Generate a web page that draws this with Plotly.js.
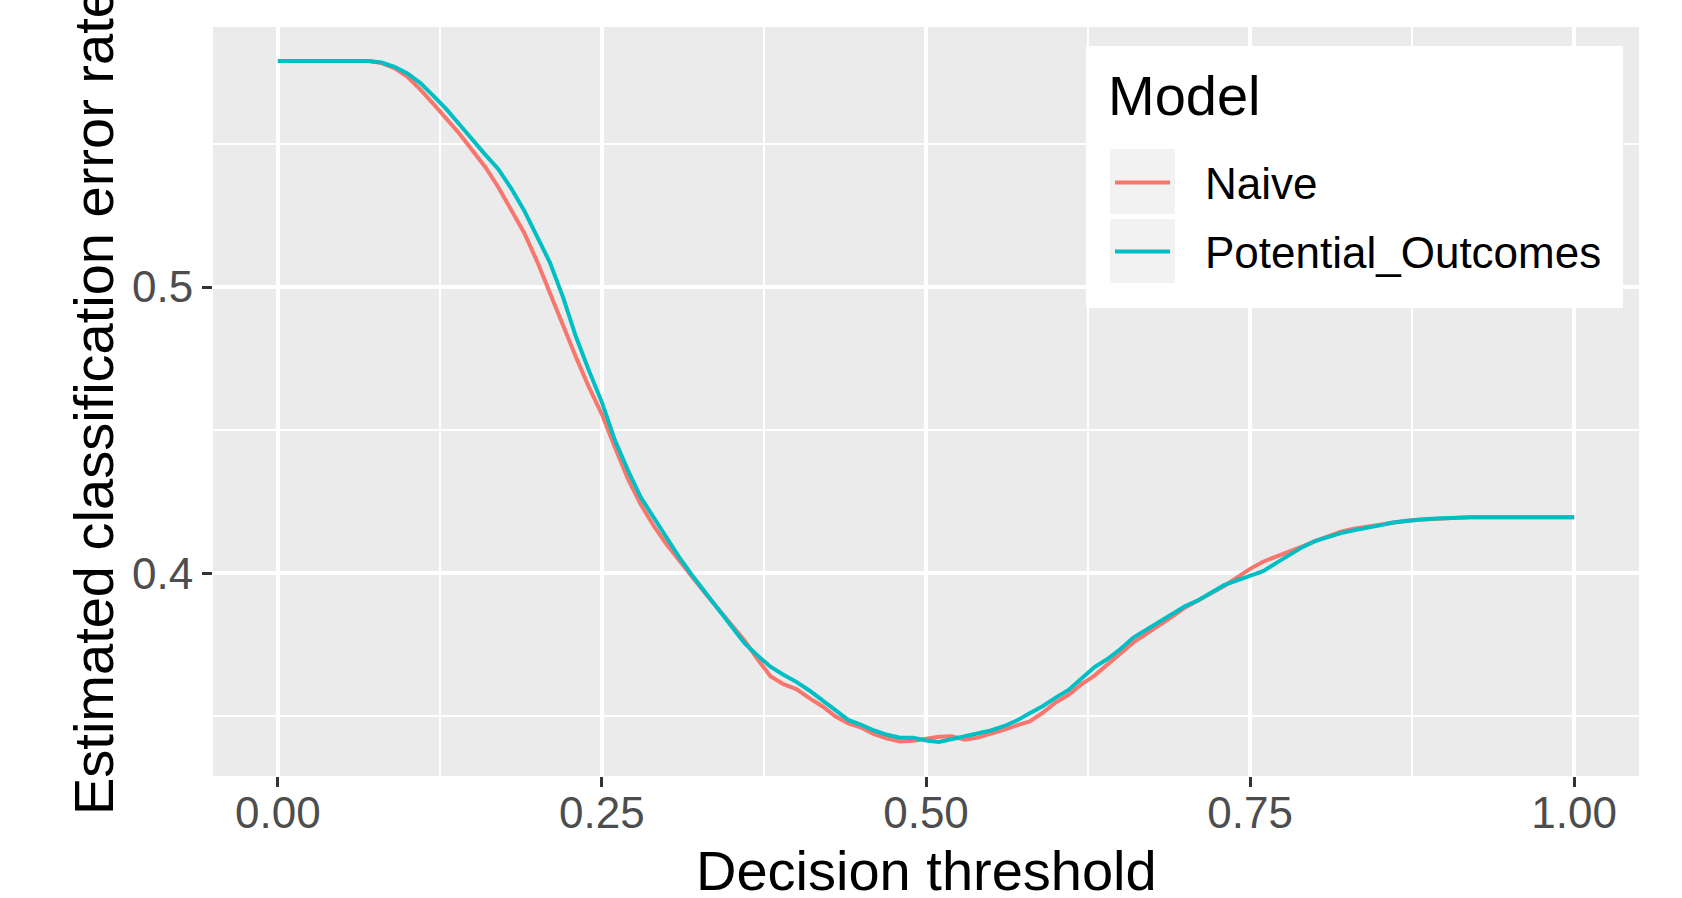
<!DOCTYPE html>
<html>
<head>
<meta charset="utf-8">
<script src="https://cdn.plot.ly/plotly-3.0.1.min.js"></script>
<style>html,body{margin:0;padding:0;background:#fff;}#chart{width:1682px;height:898px;}</style>
</head>
<body>
<div id="chart"></div>
<script>
// Decision thresholds 0.00 .. 1.00 step 0.01
const threshold = [0.00,0.01,0.02,0.03,0.04,0.05,0.06,0.07,0.08,0.09,
  0.10,0.11,0.12,0.13,0.14,0.15,0.16,0.17,0.18,0.19,
  0.20,0.21,0.22,0.23,0.24,0.25,0.26,0.27,0.28,0.29,
  0.30,0.31,0.32,0.33,0.34,0.35,0.36,0.37,0.38,0.39,
  0.40,0.41,0.42,0.43,0.44,0.45,0.46,0.47,0.48,0.49,
  0.50,0.51,0.52,0.53,0.54,0.55,0.56,0.57,0.58,0.59,
  0.60,0.61,0.62,0.63,0.64,0.65,0.66,0.67,0.68,0.69,
  0.70,0.71,0.72,0.73,0.74,0.75,0.76,0.77,0.78,0.79,
  0.80,0.81,0.82,0.83,0.84,0.85,0.86,0.87,0.88,0.89,
  0.90,0.91,0.92,0.93,0.94,0.95,0.96,0.97,0.98,0.99,1.00];

const naive = [0.579,0.579,0.579,0.579,0.579,0.579,0.579,0.579,0.5783,0.5765,
  0.5735,0.5690,0.5640,0.5590,0.5537,0.5478,0.5420,0.5350,0.5273,0.5190,
  0.5090,0.4978,0.4862,0.4755,0.4650,0.4555,0.4440,0.4330,0.4240,0.4165,
  0.4100,0.4040,0.3985,0.3928,0.3872,0.3820,0.3765,0.3700,0.3640,0.3612,
  0.3595,0.3563,0.3535,0.3500,0.3475,0.3460,0.3437,0.3422,0.3412,0.3414,
  0.3420,0.3428,0.3430,0.3418,0.3425,0.3438,0.3452,0.3468,0.3482,0.3512,
  0.3548,0.3575,0.3612,0.3642,0.3680,0.3718,0.3758,0.3788,0.3817,0.3848,
  0.3880,0.3905,0.3930,0.3955,0.3985,0.4015,0.4040,0.4057,0.4073,0.4093,
  0.4112,0.4130,0.4145,0.4155,0.4162,0.4170,0.4178,0.4183,0.4187,0.4190,
  0.4193,0.4194,0.4195,0.4195,0.4195,0.4195,0.4195,0.4195,0.4195,0.4195,0.4195];

const potentialOutcomes = [0.579,0.579,0.579,0.579,0.579,0.579,0.579,0.579,0.5785,0.5770,
  0.5747,0.5713,0.5668,0.5622,0.5569,0.5515,0.5463,0.5413,0.5345,0.5268,
  0.5180,0.5085,0.4965,0.4826,0.4708,0.4597,0.4465,0.4360,0.4265,0.4195,
  0.4120,0.4053,0.3990,0.3932,0.3873,0.3812,0.3755,0.3712,0.3673,0.3645,
  0.3620,0.3590,0.3555,0.3518,0.3487,0.3470,0.3450,0.3435,0.3425,0.3425,
  0.3415,0.3410,0.3420,0.3430,0.3440,0.3450,0.3465,0.3485,0.3510,0.3535,
  0.3565,0.3592,0.3632,0.3672,0.3700,0.3735,0.3775,0.3802,0.3832,0.3860,
  0.3885,0.3905,0.3932,0.3958,0.3975,0.3990,0.4007,0.4035,0.4064,0.4090,
  0.4112,0.4127,0.4140,0.4150,0.4157,0.4167,0.4177,0.4183,0.4187,0.4190,
  0.4193,0.4194,0.4195,0.4195,0.4195,0.4195,0.4195,0.4195,0.4195,0.4195,0.4195];

const seriesNames = ["Naive", "Potential_Outcomes"];
const seriesColors = ["#F8766D", "#00BFC4"];
const xTickVals = [0, 0.25, 0.5, 0.75, 1.0];
const xTickText = ["0.00", "0.25", "0.50", "0.75", "1.00"];
const yTickVals = [0.4, 0.5];
const yTickText = ["0.4", "0.5"];
const xTitle = "Decision threshold";
const yTitle = "Estimated classification error rate";
const legendTitle = "Model";

const FONT = "Liberation Sans, Arial, Helvetica, sans-serif";
const W = 1682, H = 898;
const M = {l: 213, r: 43, t: 27, b: 122};
const PW = W - M.l - M.r, PH = H - M.t - M.b;
const px2x = p => (p - M.l) / PW;
const px2y = p => (H - M.b - p) / PH;

const traces = [naive, potentialOutcomes].map((vals, i) => ({
  type: "scatter", mode: "lines",
  x: threshold, y: vals,
  name: seriesNames[i],
  showlegend: false,
  line: {color: seriesColors[i], width: 4}
}));

// Legend (ggplot style): white box, grey key squares, key lines, labels
const legendKeyTop = [149, 219];
const legendKeyBottom = [214, 283];
const legendRowY = [182.5, 251.5];

const shapes = [
  {type: "rect", xref: "paper", yref: "paper", layer: "above",
   x0: px2x(1086), x1: px2x(1623), y0: px2y(308), y1: px2y(46),
   fillcolor: "#FFFFFF", line: {width: 0}}
];
const annotations = [
  {text: xTitle, xref: "paper", yref: "paper", x: 0.5, y: px2y(870),
   xanchor: "center", yanchor: "middle", showarrow: false,
   font: {family: FONT, size: 56, color: "#000000"}},
  {text: yTitle, xref: "paper", yref: "paper", x: px2x(93.5), y: 0.5,
   xanchor: "center", yanchor: "middle", showarrow: false, textangle: -90,
   font: {family: FONT, size: 56, color: "#000000"}},
  {text: legendTitle, xref: "paper", yref: "paper", x: px2x(1106), y: px2y(95.6),
   xanchor: "left", yanchor: "middle", showarrow: false,
   font: {family: FONT, size: 56, color: "#000000"}}
];
seriesNames.forEach((name, i) => {
  shapes.push({type: "rect", xref: "paper", yref: "paper", layer: "above",
    x0: px2x(1110), x1: px2x(1175), y0: px2y(legendKeyBottom[i]), y1: px2y(legendKeyTop[i]),
    fillcolor: "#F2F2F2", line: {width: 0}});
  shapes.push({type: "line", xref: "paper", yref: "paper", layer: "above",
    x0: px2x(1115), x1: px2x(1170), y0: px2y(legendRowY[i]), y1: px2y(legendRowY[i]),
    line: {color: seriesColors[i], width: 4}});
  annotations.push({text: name, xref: "paper", yref: "paper",
    x: px2x(1203), y: px2y(legendRowY[i] + 0.5),
    xanchor: "left", yanchor: "middle", showarrow: false,
    font: {family: FONT, size: 44, color: "#000000"}});
});

const axisCommon = {
  showline: false, zeroline: false,
  ticks: "outside", ticklen: 10, tickwidth: 3, tickcolor: "#333333",
  gridcolor: "#FFFFFF", gridwidth: 3.6,
  tickfont: {family: FONT, size: 44, color: "#4D4D4D"},
  fixedrange: true
};

const layout = {
  width: W, height: H,
  margin: M,
  paper_bgcolor: "#FFFFFF",
  plot_bgcolor: "#EBEBEB",
  font: {family: FONT},
  xaxis: Object.assign({}, axisCommon, {
    range: [-0.05, 1.05], tickmode: "array", tickvals: xTickVals, ticktext: xTickText,
    ticklabelstandoff: -12,
    minor: {tickvals: [0.125, 0.375, 0.625, 0.875], showgrid: true, gridcolor: "#FFFFFF", gridwidth: 1.8, ticks: ""}
  }),
  yaxis: Object.assign({}, axisCommon, {
    range: [0.3291, 0.5909], tickmode: "array", tickvals: yTickVals, ticktext: yTickText,
    minor: {tickvals: [0.35, 0.45, 0.55], showgrid: true, gridcolor: "#FFFFFF", gridwidth: 1.8, ticks: ""}
  }),
  showlegend: false,
  shapes: shapes,
  annotations: annotations
};

Plotly.newPlot("chart", traces, layout, {displayModeBar: false, staticPlot: true});
</script>
</body>
</html>
